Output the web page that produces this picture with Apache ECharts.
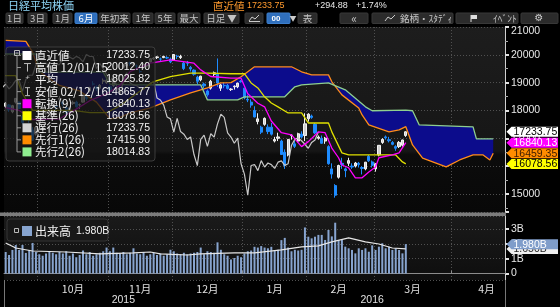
<!DOCTYPE html>
<html><head><meta charset="utf-8">
<script src="https://cdn.jsdelivr.net/npm/echarts/dist/echarts.min.js"></script>
<style>html,body{margin:0;padding:0;background:#000;}#c{width:560px;height:307px;}</style>
</head><body><div id="c"></div>
<script>
// ---------- categories (trading days; future dates = weekdays) ----------
const dates = [
'2015-09-14','2015-09-15','2015-09-16','2015-09-17','2015-09-18','2015-09-24','2015-09-25','2015-09-28','2015-09-29','2015-09-30',
'2015-10-01','2015-10-02','2015-10-05','2015-10-06','2015-10-07','2015-10-08','2015-10-09','2015-10-13','2015-10-14','2015-10-15','2015-10-16','2015-10-19','2015-10-20','2015-10-21','2015-10-22','2015-10-23','2015-10-26','2015-10-27','2015-10-28','2015-10-29','2015-10-30',
'2015-11-02','2015-11-04','2015-11-05','2015-11-06','2015-11-09','2015-11-10','2015-11-11','2015-11-12','2015-11-13','2015-11-16','2015-11-17','2015-11-18','2015-11-19','2015-11-20','2015-11-24','2015-11-25','2015-11-26','2015-11-27','2015-11-30',
'2015-12-01','2015-12-02','2015-12-03','2015-12-04','2015-12-07','2015-12-08','2015-12-09','2015-12-10','2015-12-11','2015-12-14','2015-12-15','2015-12-16','2015-12-17','2015-12-18','2015-12-21','2015-12-22','2015-12-24','2015-12-25','2015-12-28','2015-12-29','2015-12-30',
'2016-01-04','2016-01-05','2016-01-06','2016-01-07','2016-01-08','2016-01-12','2016-01-13','2016-01-14','2016-01-15','2016-01-18','2016-01-19','2016-01-20','2016-01-21','2016-01-22','2016-01-25','2016-01-26','2016-01-27','2016-01-28','2016-01-29',
'2016-02-01','2016-02-02','2016-02-03','2016-02-04','2016-02-05','2016-02-08','2016-02-09','2016-02-10','2016-02-12','2016-02-15','2016-02-16','2016-02-17','2016-02-18','2016-02-19','2016-02-22','2016-02-23','2016-02-24','2016-02-25','2016-02-26','2016-02-29',
'2016-03-01','2016-03-02','2016-03-03','2016-03-04','2016-03-07','2016-03-08','2016-03-09','2016-03-10','2016-03-11','2016-03-14',
'2016-03-15','2016-03-16','2016-03-17','2016-03-18','2016-03-21','2016-03-22','2016-03-23','2016-03-24','2016-03-25','2016-03-28','2016-03-29','2016-03-30','2016-03-31',
'2016-04-01','2016-04-04','2016-04-05','2016-04-06','2016-04-07','2016-04-08','2016-04-11','2016-04-12','2016-04-13','2016-04-14','2016-04-15','2016-04-18','2016-04-19','2016-04-20','2016-04-21','2016-04-22',
'2016-04-25','2016-04-26','2016-04-27','2016-04-28','2016-04-29','2016-05-02'];
const lastVisibleDate = '2016-04-22';

// ---------- price data ----------
const open = [18150,18200,17950,18300,18300,17800,17700,17750,17300,17150,
17500,17650,17900,18100,18200,18150,18400,18300,18100,17950,18250,18300,18200,18300,18500,18700,18950,18850,18800,19050,19000,
18850,18900,19250,19250,19550,19600,19700,19650,19600,19400,19550,19600,19750,19850,19900,19850,19900,19900,19850,
19800,19950,19900,19700,19700,19550,19450,19200,19100,18950,18700,18800,19300,19300,18800,18900,18900,18750,18850,18850,19050,
18800,18400,18300,18000,17600,17400,17500,17400,17400,16900,17000,16900,16500,16400,17100,16800,16900,17150,17100,
17700,17800,17500,17000,17000,16900,16700,15900,15300,15600,16100,15900,16100,16000,16000,16100,15950,15900,16350,16150,
15900,16400,16850,17050,16950,16850,16700,16700,16750,17100];
const close = [18264,18026,18171,18432,18070,17571,17880,17645,16931,17388,
17722,17725,18006,18186,18322,18141,18438,18234,17891,18097,18291,18131,18207,18554,18435,18826,18947,18777,18904,19084,19083,
18684,19117,19265,19265,19643,19671,19697,19698,19597,19394,19650,19650,19860,19880,19925,19848,19944,19884,19747,
20012,19939,19940,19504,19698,19493,19302,19047,19231,18884,18565,19050,19354,18987,18917,18887,18790,18770,18874,18983,19034,
18451,18375,18192,17767,17698,17219,17716,17241,17147,16956,17049,16416,16018,16959,17111,16709,17164,17042,17518,
17866,17751,17192,17045,16820,17004,16085,15713,14953,16022,16055,15837,16197,15967,16111,16053,15916,16141,16189,16027,
16086,16747,16960,17015,16911,16784,16642,16852,16939,17233.75];
const high = [18300,18230,18200,18450,18320,17850,17900,17800,17400,17400,
17750,17770,18050,18250,18350,18200,18520,18350,18150,18150,18350,18350,18250,18580,18550,18850,19050,18900,18950,19150,19150,
18900,19150,19300,19300,19660,19700,19750,19730,19650,19500,19700,19700,19880,19920,19950,19900,19960,19950,19900,
20012.4,20000,20000,19750,19780,19600,19480,19250,19250,19000,18750,19100,19400,19869,18950,19000,18950,18800,18900,19000,19100,
18800,18550,18400,18150,17900,17450,17750,17500,17550,17050,17200,16950,16600,16970,17150,16900,17200,17250,17900,
17900,17850,17550,17100,17100,17050,16750,16100,15350,16050,16300,15950,16300,16100,16150,16150,16000,16150,16400,16200,
16100,16750,17000,17100,17050,16900,16750,16900,16950,17250];
const low = [18100,17950,17900,18250,18050,17500,17650,17550,16901,17100,
17450,17600,17850,18050,18150,17950,18350,18150,17850,17900,18200,18100,18050,18280,18350,18650,18900,18700,18750,18950,18950,
18650,18850,19150,19200,19500,19550,19600,19620,19500,19350,19500,19550,19720,19820,19850,19780,19880,19850,19700,
19780,19850,19850,19450,19600,19400,19250,18950,19050,18800,18500,18750,19200,18850,18700,18800,18750,18700,18750,18800,19000,
18400,18300,18100,17750,17500,17150,17450,17150,17100,16850,16900,16400,15900,16350,16950,16650,16850,17000,16900,
17600,17700,17150,16950,16800,16800,16050,15550,14865.77,15550,15900,15600,16000,15900,15950,15950,15700,15850,16150,15950,
15800,16350,16800,16950,16850,16750,16550,16650,16700,17050];
// volume, billions of shares
const volume = [1.45,1.25,1.59,1.92,1.59,1.92,1.39,1.59,2.06,1.45,
1.3,1.2,1.35,1.5,1.4,1.3,1.45,1.35,1.5,1.2,1.35,1.1,1.25,1.55,1.3,1.45,1.2,1.3,1.4,1.5,1.75,
1.5,1.75,1.4,1.35,1.45,1.3,1.4,1.7,1.35,1.3,1.45,1.2,1.3,1.4,1.25,1.35,1.2,1.3,1.6,
1.5,1.35,1.3,1.4,1.3,1.35,1.4,1.45,1.75,1.3,1.5,1.45,1.4,2.1,1.6,1.3,1.2,0.95,1.05,1.2,1.1,
1.35,1.5,1.55,1.8,1.75,1.85,1.75,1.7,1.8,1.55,1.6,2.25,2.4,1.75,1.5,1.6,1.55,1.6,3.1,
2.48,2.37,2.48,2.6,2.6,2.26,2.93,2.5,3.42,2.26,2.26,1.81,1.7,1.59,1.36,1.7,1.59,1.7,1.47,1.9,
1.59,1.81,2.04,1.7,1.81,1.59,1.7,1.59,1.36,1.98];
const volumeMA = [['2015-09-14',2.06],['2015-09-17',1.72],['2015-09-29',1.52],['2015-10-14',1.45],['2015-10-28',1.32],['2015-11-12',1.39],['2015-11-19',1.45],['2015-11-25',1.32],['2015-12-07',1.25],['2015-12-11',1.32],['2015-12-28',1.39],['2016-01-07',1.39],['2016-01-20',1.59],['2016-01-28',1.79],['2016-02-04',1.86],['2016-02-10',2.13],['2016-02-18',2.40],['2016-02-25',2.13],['2016-03-02',1.99],['2016-03-08',1.72],['2016-03-14',1.66]];

// ---------- Ichimoku lines ----------
const tenkan = [['2015-09-14',18100],['2015-09-18',18000],['2015-09-29',17675],['2015-10-09',17700],['2015-10-16',17975],['2015-10-23',18350],['2015-10-30',18600],['2015-11-06',18900],['2015-11-11',19400],['2015-11-16',19550],['2015-11-19',19700],['2015-11-30',19820],['2015-12-09',19700],['2015-12-11',19460],['2015-12-16',19220],['2015-12-25',19160],['2015-12-30',19160],['2016-01-05',18600],['2016-01-08',18260],['2016-01-13',18130],['2016-01-15',17620],['2016-01-20',17200],['2016-01-25',17120],['2016-01-28',16700],['2016-02-01',16880],['2016-02-02',16990],['2016-02-04',17230],['2016-02-08',17200],['2016-02-10',16650],['2016-02-15',16300],['2016-02-16',16040],['2016-02-18',15940],['2016-02-22',15580],['2016-02-24',15580],['2016-02-26',15790],['2016-03-01',15970],['2016-03-02',16300],['2016-03-08',16400],['2016-03-10',16475],['2016-03-14',16840.13]];
const kijun = [['2015-09-14',19250],['2015-09-17',19250],['2015-09-24',18600],['2015-09-29',18000],['2015-10-16',18000],['2015-10-23',17925],['2015-10-30',17925],['2015-11-05',18100],['2015-11-10',18350],['2015-11-16',18700],['2015-11-20',19040],['2015-11-30',19220],['2015-12-08',19340],['2015-12-15',19340],['2015-12-25',19320],['2016-01-04',19320],['2016-01-06',18990],['2016-01-08',18810],['2016-01-13',18490],['2016-01-15',18270],['2016-01-19',18130],['2016-01-22',17910],['2016-01-28',17910],['2016-02-01',17550],['2016-02-09',17550],['2016-02-10',17230],['2016-02-16',16475],['2016-02-18',16400],['2016-03-09',16400],['2016-03-11',16150],['2016-03-14',16078.56]];
const senkouA = [['2015-09-14',20520],['2015-09-25',20480],['2015-09-29',20100],['2015-10-01',19400],['2015-10-09',18900],['2015-10-20',18700],['2015-10-27',18300],['2015-11-02',17700],['2015-11-06',17750],['2015-11-11',17910],['2015-11-19',18090],['2015-11-30',18380],['2015-12-08',18630],['2015-12-15',18810],['2015-12-21',18990],['2015-12-25',19000],['2015-12-30',19210],['2016-01-07',19570],['2016-01-25',19570],['2016-01-28',19390],['2016-02-02',19280],['2016-02-09',19280],['2016-02-10',19030],['2016-02-16',18560],['2016-02-23',18090],['2016-02-24',17840],['2016-02-26',17480],['2016-03-07',17230],['2016-03-10',17300],['2016-03-14',17415.90],['2016-03-16',16760],['2016-03-21',16290],['2016-03-25',16110],['2016-03-30',15970],['2016-04-05',16220],['2016-04-11',16400],['2016-04-14',16400],['2016-04-18',16220],['2016-04-19',16459.35]];
const senkouB = [['2015-09-14',20030],['2015-09-30',20030],['2015-10-01',19380],['2015-10-29',19380],['2015-11-02',18950],['2015-11-11',18920],['2015-12-11',18920],['2015-12-15',18380],['2015-12-29',18380],['2016-01-04',18490],['2016-01-21',18490],['2016-01-26',18850],['2016-01-28',18920],['2016-02-09',18990],['2016-02-17',18740],['2016-02-25',18130],['2016-02-29',17990],['2016-03-14',18014.83],['2016-03-16',17990],['2016-03-18',17480],['2016-04-11',17410],['2016-04-12',16980],['2016-04-19',16980]];

// ---------- texts ----------
const titleText = '日経平均株価';
const lastLabel = '直近値', lastValue = '17233.75', changeAbs = '+294.88', changePct = '+1.74%';
const legendRows = [
  ['直近値','17233.75','sq','#ffffff'],
  ['高値 12/01/15','20012.40','hi','#bbbbbb'],
  ['平均','18025.82','avg','#bbbbbb'],
  ['安値 02/12/16','14865.77','lo','#bbbbbb'],
  ['転換(9)','16840.13','sq','#ff00ff'],
  ['基準(26)','16078.56','sq','#ffff00'],
  ['遅行(26)','17233.75','sq','#d3d3d3'],
  ['先行1(26)','17415.90','sq','#ff8c00'],
  ['先行2(26)','18014.83','sq','#90ee90']
];
const priceTags = [[17233.75,'#ffffff','#000000'],[16840.13,'#ff00ff','#ffffff'],[16459.35,'#ff8c00','#3a1a00'],[16078.56,'#ffff00','#000000']];
const volTags = [[1.65,'#f0f0f0','#222222','1.650B'],[1.98,'#7f9dca','#ffffff','1.980B']];
const buttons = [['1日',6,23],['3日',28,47],['1月',53,72],['6月',75,97,1],['年初来',99,130],['1年',133,153],['5年',155,175],['最大',178,200],['日足 ▼',204,239],['',245,263],['',267,290,1],['表',298,317],['«',340,368],['',372,453],['',456,518],['',521,558]];

// ---------- build ----------
const idx = {}; dates.forEach((d,i)=>idx[d]=i);
const maxIdx = idx[lastVisibleDate];
const xy = arr => arr.map(p => [idx[p[0]], p[1]]);
const candle = open.map((o,i)=>[o, close[i], low[i], high[i]]);
const chikou = close.map((c,i)=>[i-26, c]);

const monthStarts = [], monthStartSet = new Set();
for (let i=1;i<dates.length;i++) if (dates[i].slice(0,7)!==dates[i-1].slice(0,7)) { monthStarts.push(i); monthStartSet.add(i); }
const monthLabel = {};
for (let k=0;k<monthStarts.length-1;k++){ const s=monthStarts[k], e=monthStarts[k+1]; monthLabel[Math.floor((s+e-1)/2)] = parseInt(dates[s].slice(5,7),10)+'月'; }
let yearStart = 0; for (let i=1;i<dates.length;i++) if (dates[i].slice(0,4)!==dates[i-1].slice(0,4)) { yearStart=i; break; }
const yearLabel = {}; yearLabel[Math.floor((0+yearStart-1)/2)] = dates[0].slice(0,4); yearLabel[Math.floor((yearStart+maxIdx)/2)] = dates[yearStart].slice(0,4);
const isMonthStart = i => monthStartSet.has(i);

const FONT = '"Noto Sans CJK JP","Noto Sans",sans-serif';
const NUMF = '"Liberation Sans",Arial,sans-serif';
const G = echarts.graphic;
const gridLine = {color:'#505050', type:[1,2], width:1};

const chart = echarts.init(document.getElementById('c'), null, {width:560, height:307});
const lineS = (name, data, color, w) => ({type:'line', name, xAxisIndex:0, yAxisIndex:0, data, symbol:'none', showSymbol:false, lineStyle:{color, width:w||1.2}, z:4, silent:true, animation:false});

chart.setOption({
  backgroundColor:'#000',
  animation:false,
  grid:[
    {left:4, right:55, top:27, height:185, show:true, borderWidth:0,
     backgroundColor:new G.LinearGradient(0,0,0,1,[{offset:0,color:'#1d1d1d'},{offset:0.67,color:'#161616'},{offset:0.69,color:'#0c0c0c'},{offset:1,color:'#080808'}])},
    {left:4, right:55, top:216, height:64, show:true, borderWidth:0,
     backgroundColor:new G.LinearGradient(0,0,0,1,[{offset:0,color:'#1a1a1a'},{offset:1,color:'#0e0e0e'}])}
  ],
  xAxis:[
    {type:'category', gridIndex:0, data:dates, max:maxIdx, axisLine:{show:false}, axisTick:{show:false}, axisLabel:{show:false},
     splitLine:{show:true, interval:isMonthStart, lineStyle:gridLine}},
    {type:'category', gridIndex:1, data:dates, max:maxIdx, axisLine:{show:true, lineStyle:{color:'#8c8c8c'}},
     axisTick:{show:true, inside:true, length:3, interval:isMonthStart, lineStyle:{color:'#8c8c8c'}},
     axisLabel:{show:true, interval:i=>monthLabel[i]!==undefined, formatter:(v,i)=>monthLabel[i], color:'#e0e0e0', fontSize:10.5, fontFamily:FONT, margin:4},
     splitLine:{show:true, interval:isMonthStart, lineStyle:gridLine}},
    {type:'category', gridIndex:1, data:dates, max:maxIdx, position:'bottom', axisLine:{show:false},
     axisTick:{show:true, length:27, interval:i=>i===yearStart, lineStyle:{color:'#777'}},
     axisLabel:{show:true, interval:i=>yearLabel[i]!==undefined, formatter:(v,i)=>yearLabel[i], color:'#e0e0e0', fontSize:10.5, fontFamily:NUMF, margin:15},
     splitLine:{show:false}}
  ],
  yAxis:[
    {type:'value', gridIndex:0, position:'right', min:14350, max:21000, scale:true,
     axisLine:{show:true, lineStyle:{color:'#d0d0d0'}},
     axisTick:{show:true, length:4, lineStyle:{color:'#e0e0e0', width:2}},
     minorTick:{show:true, splitNumber:2, length:3, lineStyle:{color:'#aaaaaa'}},
     axisLabel:{color:'#e8e8e8', fontSize:10.5, fontFamily:NUMF, margin:6, showMinLabel:false,
       formatter:v=> v===21000 ? '{t|21000}' : String(v), rich:{t:{padding:[8,0,0,0], color:'#e8e8e8', fontSize:10.5, fontFamily:NUMF}}},
     splitLine:{show:true, lineStyle:gridLine}},
    {type:'value', gridIndex:1, position:'right', min:-0.43, max:3.87,
     axisLine:{show:true, lineStyle:{color:'#d0d0d0'}},
     axisTick:{show:true, length:4, lineStyle:{color:'#e0e0e0', width:2}},
     axisLabel:{color:'#e8e8e8', fontSize:10.5, fontFamily:NUMF, margin:6, showMinLabel:false, showMaxLabel:false,
       formatter:v=> v===0 ? '0' : (Math.round(v)+'B')},
     splitLine:{show:true, lineStyle:gridLine}}
  ],
  series:[
    {type:'custom', name:'cloud', xAxisIndex:0, yAxisIndex:0, data:[0], silent:true, z:2,
     renderItem:(params, api)=>{
       const pts=[]; xy(senkouA).forEach(p=>pts.push(api.coord(p)));
       const b=xy(senkouB); for(let k=b.length-1;k>=0;k--) pts.push(api.coord(b[k]));
       return {type:'polygon', shape:{points:pts}, style:{fill:'#0c0c8c'}};
     }},
    lineS('先行1', xy(senkouA), '#ff8c1a', 1.3),
    lineS('先行2', xy(senkouB), '#8fcf8f', 1.3),
    {type:'candlestick', xAxisIndex:0, yAxisIndex:0, data:candle, barWidth:2.7, z:3,
     itemStyle:{color:'#d0d0d0', color0:'#1e8cff', borderColor:'#f4f4f4', borderColor0:'#1e8cff', borderWidth:1}},
    lineS('遅行', chikou, '#c8c8c8', 1.2),
    lineS('基準', xy(kijun), '#e0e000', 1.3),
    lineS('転換', xy(tenkan), '#ff00ff', 1.3),
    {type:'bar', xAxisIndex:1, yAxisIndex:1, data:volume, barWidth:2, itemStyle:{color:'#87a4cf'}, silent:true},
    {type:'line', xAxisIndex:1, yAxisIndex:1, data:xy(volumeMA), symbol:'none', lineStyle:{color:'#e6e6e6', width:1.2}, z:4, silent:true}
  ]
});

// ---------- overlays ----------
const gr = [];
gr.push({type:'text', x:8, y:6, z:100, style:{text:titleText, fill:'#8fd6f6', font:'11px '+FONT, verticalAlign:'middle'}});
gr.push({type:'text', x:213, y:6, z:100, style:{text:lastLabel, fill:'#ff9a2e', font:'10.5px '+FONT, verticalAlign:'middle'}});
gr.push({type:'text', x:247, y:6, z:100, style:{text:lastValue, fill:'#ff9a2e', font:'9px '+NUMF, verticalAlign:'middle'}});
gr.push({type:'text', x:315, y:6, z:100, style:{text:changeAbs, fill:'#e8e8e8', font:'9px '+NUMF, verticalAlign:'middle'}});
gr.push({type:'text', x:356, y:6, z:100, style:{text:changePct, fill:'#e8e8e8', font:'9px '+NUMF, verticalAlign:'middle'}});
buttons.forEach(b=>{
  const active=b[3]===1;
  gr.push({type:'rect', z:100, shape:{x:b[1], y:13, width:b[2]-b[1], height:10.5, r:1}, style:{fill: active?'#2f6fbd':'#2b2b2b', stroke: active?'#3d7fcc':'#383838', lineWidth:1}});
  if (b[0]) gr.push({type:'text', z:101, x:(b[1]+b[2])/2, y:18.5, style:{text:b[0], fill: active?'#ffffff':'#c4c4c4', font:(b[0]==='«'?'12px ':'9.5px ')+FONT, align:'center', verticalAlign:'middle'}});
});
gr.push({type:'polyline', z:101, shape:{points:[[249,21],[252,17],[255,19],[259,15]]}, style:{stroke:'#cccccc', lineWidth:1, fill:null}});
gr.push({type:'line', z:101, shape:{x1:249, y1:21.5, x2:260, y2:21.5}, style:{stroke:'#cccccc', lineWidth:1}});
gr.push({type:'text', z:101, x:276, y:18.5, style:{text:'00', fill:'#ffffff', font:'bold 8px '+NUMF, align:'center', verticalAlign:'middle'}});
gr.push({type:'text', z:101, x:293, y:18.5, style:{text:'▼', fill:'#cccccc', font:'7px '+FONT, align:'center', verticalAlign:'middle'}});
gr.push({type:'polyline', z:101, shape:{points:[[385,21],[388,17],[391,19],[395,15]]}, style:{stroke:'#cccccc', lineWidth:1, fill:null}});
gr.push({type:'text', z:101, x:400, y:18.5, style:{text:'銘柄・ｽﾀﾃﾞｨ', fill:'#c4c4c4', font:'9.5px '+FONT, verticalAlign:'middle'}});
gr.push({type:'rect', z:101, shape:{x:471, y:15, width:6, height:4}, style:{fill:'#dddddd'}});
gr.push({type:'line', z:101, shape:{x1:471, y1:15, x2:471, y2:22}, style:{stroke:'#dddddd', lineWidth:1}});
gr.push({type:'text', z:101, x:493, y:18.5, style:{text:'ｲﾍﾞﾝﾄ', fill:'#c4c4c4', font:'9.5px '+FONT, verticalAlign:'middle'}});
gr.push({type:'text', z:101, x:539, y:18.5, style:{text:'⚙', fill:'#cccccc', font:'10px "DejaVu Sans"', align:'center', verticalAlign:'middle'}});

// main legend box
gr.push({type:'rect', z:100, shape:{x:6, y:47, width:149, height:114, r:3}, style:{fill:'rgba(22,22,22,0.74)', stroke:'rgba(70,70,70,0.8)', lineWidth:1}});
gr.push({type:'rect', z:101, shape:{x:14.5, y:50.5, width:5, height:5}, style:{fill:null, stroke:'#bbbbbb', lineWidth:1}});
gr.push({type:'line', z:101, shape:{x1:15.5, y1:53, x2:18.5, y2:53}, style:{stroke:'#bbbbbb', lineWidth:1}});
const rowY = k => 55.5 + k*12.05;
gr.push({type:'line', z:101, shape:{x1:17, y1:56, x2:17, y2:rowY(8)}, style:{stroke:'#9a9a9a', lineWidth:1}});
legendRows.forEach((r,k)=>{
  const y=rowY(k);
  gr.push({type:'line', z:101, shape:{x1:17, y1:y, x2:21, y2:y}, style:{stroke:'#9a9a9a', lineWidth:1}});
  if (r[2]==='sq') gr.push({type:'rect', z:101, shape:{x:22.5, y:y-4.5, width:9, height:9}, style:{fill:r[3]}});
  else if (r[2]==='hi') { gr.push({type:'line', z:101, shape:{x1:24, y1:y-4, x2:31, y2:y-4}, style:{stroke:r[3], lineWidth:1}}); gr.push({type:'line', z:101, shape:{x1:27.5, y1:y-4, x2:27.5, y2:y+4}, style:{stroke:r[3], lineWidth:1}}); }
  else if (r[2]==='lo') { gr.push({type:'line', z:101, shape:{x1:25, y1:y-4, x2:30, y2:y-4}, style:{stroke:r[3], lineWidth:1}}); gr.push({type:'line', z:101, shape:{x1:27.5, y1:y-4, x2:27.5, y2:y+4}, style:{stroke:r[3], lineWidth:1}}); gr.push({type:'line', z:101, shape:{x1:25, y1:y+4, x2:30, y2:y+4}, style:{stroke:r[3], lineWidth:1}}); }
  else { gr.push({type:'text', z:101, x:27.5, y:y-2, style:{text:'+', fill:r[3], font:'8px '+NUMF, align:'center', verticalAlign:'middle'}}); }
  gr.push({type:'text', z:101, x:35, y:y, style:{text:r[0], fill:'#f2f2f2', font:'11.5px '+FONT, verticalAlign:'middle'}});
  gr.push({type:'text', z:101, x:150, y:y, style:{text:r[1], fill:'#f2f2f2', font:'10.5px '+NUMF, align:'right', verticalAlign:'middle'}});
});

// volume legend box
gr.push({type:'rect', z:100, shape:{x:7, y:219, width:101, height:22, r:3}, style:{fill:'rgba(24,24,24,0.9)', stroke:'#353535', lineWidth:1}});
gr.push({type:'rect', z:101, shape:{x:14.5, y:228.5, width:4, height:4}, style:{fill:null, stroke:'#bbbbbb', lineWidth:1}});
gr.push({type:'rect', z:101, shape:{x:22, y:226, width:10, height:10}, style:{fill:'#87a4cf'}});
gr.push({type:'text', z:101, x:35, y:231, style:{text:'出来高', fill:'#f2f2f2', font:'12px '+FONT, verticalAlign:'middle'}});
gr.push({type:'text', z:101, x:76, y:231.5, style:{text:volume[volume.length-1].toFixed(3)+'B', fill:'#f2f2f2', font:'10.5px '+NUMF, verticalAlign:'middle'}});

// separator bar between panels
gr.push({type:'rect', z:50, shape:{x:0, y:212.5, width:506, height:3.5}, style:{fill:'#7c7c7c'}});

// tags on the right axis
const ax = 505.5;
function tag(y, bg, fg, txt, z){
  gr.push({type:'polygon', z:z, shape:{points:[[ax+1,y],[ax+6,y-5],[558,y-5],[558,y+5],[ax+6,y+5]]}, style:{fill:bg}});
  gr.push({type:'text', z:z+1, x:ax+8, y:y+0.5, style:{text:txt, fill:fg, font:'10.5px '+NUMF, verticalAlign:'middle'}});
}
priceTags.forEach((t,k)=>{ const y=chart.convertToPixel({yAxisIndex:0}, t[0]); tag(y, t[1], t[2], t[0].toFixed(2), 110+k*2); });
volTags.forEach((t,k)=>{ const y=chart.convertToPixel({yAxisIndex:1}, t[0]); tag(y, t[1], t[2], t[3], 120+k*2); });

chart.setOption({graphic:{elements:gr}});
</script></body></html>
